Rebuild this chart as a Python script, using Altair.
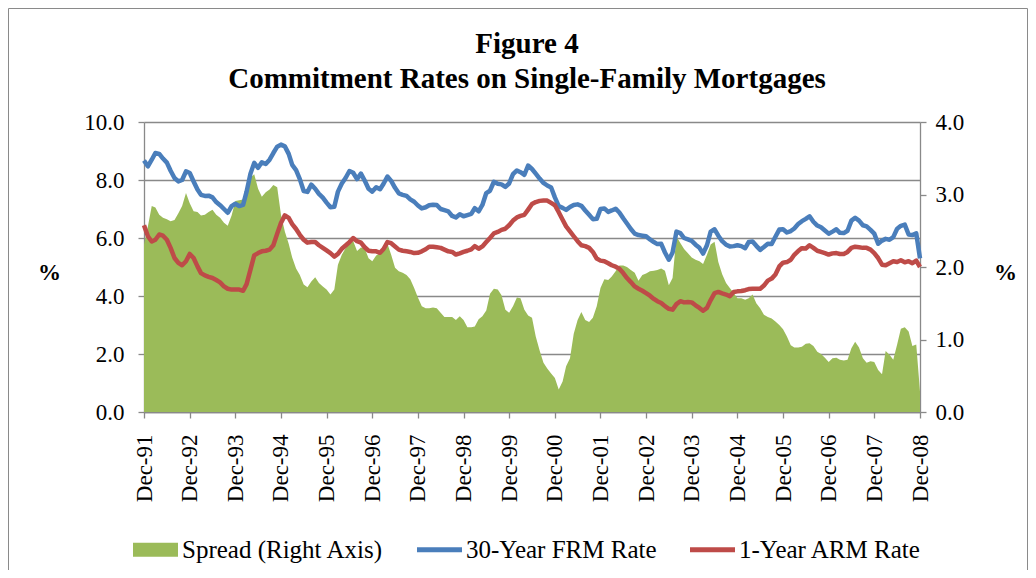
import altair as alt
import pandas as pd

# ---------------- data (monthly, Dec-1991 .. Dec-2008) ----------------
frm = [
    8.67,
    8.47, 8.70, 8.93, 8.90, 8.74, 8.60, 8.32, 8.07, 7.95, 8.00, 8.30, 8.24,
    7.95, 7.67, 7.49, 7.45, 7.46, 7.40, 7.24, 7.13, 7.00, 6.87, 7.10, 7.18,
    7.10, 7.14, 7.60, 8.22, 8.59, 8.42, 8.61, 8.55, 8.70, 8.93, 9.15, 9.22,
    9.16, 8.90, 8.52, 8.34, 8.03, 7.62, 7.59, 7.84, 7.70, 7.52, 7.39, 7.22,
    7.06, 7.08, 7.60, 7.88, 8.07, 8.31, 8.25, 8.03, 8.22, 7.98, 7.70, 7.60,
    7.75, 7.68, 7.87, 8.12, 7.97, 7.73, 7.54, 7.49, 7.45, 7.33, 7.25, 7.12,
    7.02, 7.06, 7.13, 7.15, 7.14, 7.00, 6.96, 6.92, 6.76, 6.71, 6.82, 6.75,
    6.79, 6.83, 7.03, 6.92, 7.14, 7.55, 7.63, 7.94, 7.87, 7.85, 7.76, 7.88,
    8.20, 8.33, 8.27, 8.18, 8.50, 8.38, 8.22, 8.05, 7.90, 7.81, 7.74, 7.40,
    7.10, 7.04, 6.97, 7.07, 7.14, 7.16, 7.11, 6.95, 6.80, 6.65, 6.66, 7.00,
    7.02, 6.90, 6.95, 7.01, 6.88, 6.68, 6.50, 6.31, 6.15, 6.10, 6.08, 6.06,
    5.95, 5.86, 5.79, 5.80, 5.50, 5.25, 5.50, 6.22, 6.17, 6.00, 5.95, 5.90,
    5.77, 5.66, 5.46, 5.75, 6.22, 6.30, 6.08, 5.89, 5.77, 5.71, 5.72, 5.75,
    5.72, 5.65, 5.86, 5.88, 5.73, 5.59, 5.69, 5.80, 5.79, 6.04, 6.29, 6.30,
    6.19, 6.24, 6.33, 6.48, 6.58, 6.66, 6.75, 6.56, 6.43, 6.37, 6.26, 6.15,
    6.22, 6.30, 6.18, 6.17, 6.25, 6.60, 6.70, 6.60, 6.44, 6.40, 6.28, 6.15,
    5.80, 5.91, 5.97, 5.94, 6.03, 6.32, 6.42, 6.46, 6.12, 6.10, 6.16, 5.30,
]

arm = [
    6.44,
    6.06, 5.88, 5.94, 6.12, 6.08, 5.94, 5.66, 5.31, 5.14, 5.06, 5.20, 5.45,
    5.31, 5.02, 4.79, 4.71, 4.66, 4.62, 4.55, 4.47, 4.33, 4.25, 4.22, 4.22,
    4.22, 4.18, 4.41, 4.91, 5.40, 5.48, 5.54, 5.56, 5.60, 5.75, 6.15, 6.52,
    6.78, 6.69, 6.48, 6.31, 6.11, 5.94, 5.84, 5.86, 5.86, 5.75, 5.66, 5.57,
    5.48, 5.36, 5.45, 5.63, 5.74, 5.86, 6.00, 5.89, 5.84, 5.68, 5.56, 5.54,
    5.54, 5.49, 5.62, 5.86, 5.82, 5.71, 5.60, 5.56, 5.54, 5.52, 5.48, 5.49,
    5.54, 5.61, 5.70, 5.70, 5.68, 5.66, 5.60, 5.54, 5.52, 5.43, 5.47, 5.52,
    5.56, 5.61, 5.72, 5.63, 5.71, 5.86, 6.00, 6.16, 6.21, 6.28, 6.32, 6.44,
    6.60, 6.71, 6.76, 6.80, 6.98, 7.17, 7.24, 7.28, 7.29, 7.29, 7.21, 7.13,
    6.89, 6.63, 6.40, 6.23, 6.06, 5.89, 5.75, 5.72, 5.66, 5.52, 5.29, 5.22,
    5.20, 5.13, 5.06, 5.01, 4.94, 4.79, 4.62, 4.48, 4.33, 4.25, 4.18, 4.10,
    4.01, 3.90, 3.82, 3.76, 3.65, 3.56, 3.53, 3.72, 3.82, 3.78, 3.79, 3.78,
    3.68, 3.59, 3.49, 3.59, 3.86, 4.10, 4.14, 4.09, 4.05, 3.99, 4.14, 4.16,
    4.17, 4.20, 4.24, 4.25, 4.25, 4.25, 4.36, 4.53, 4.60, 4.74, 5.02, 5.15,
    5.17, 5.25, 5.42, 5.55, 5.65, 5.64, 5.75, 5.66, 5.56, 5.52, 5.48, 5.43,
    5.47, 5.48, 5.45, 5.45, 5.52, 5.66, 5.70, 5.68, 5.66, 5.66, 5.60, 5.48,
    5.31, 5.08, 5.06, 5.13, 5.20, 5.17, 5.23, 5.16, 5.20, 5.13, 5.22, 5.00,
]

spread = [
    2.31,
    2.56, 2.84, 2.82, 2.72, 2.68, 2.66, 2.63, 2.65, 2.74, 2.84, 3.02, 2.88,
    2.77, 2.76, 2.71, 2.72, 2.76, 2.79, 2.72, 2.68, 2.61, 2.57, 2.71, 2.91,
    2.92, 2.93, 3.02, 3.23, 3.28, 3.08, 2.97, 3.03, 3.07, 3.13, 3.10, 2.72,
    2.49, 2.32, 2.13, 1.98, 1.89, 1.76, 1.72, 1.80, 1.86, 1.78, 1.73, 1.69,
    1.62, 1.69, 2.03, 2.17, 2.26, 2.33, 2.36, 2.22, 2.27, 2.26, 2.12, 2.08,
    2.16, 2.19, 2.23, 2.32, 2.17, 1.99, 1.94, 1.92, 1.89, 1.83, 1.71, 1.58,
    1.46, 1.43, 1.43, 1.44, 1.43, 1.37, 1.31, 1.31, 1.31, 1.27, 1.32, 1.27,
    1.17, 1.17, 1.18, 1.28, 1.32, 1.40, 1.63, 1.70, 1.69, 1.61, 1.41, 1.37,
    1.46, 1.58, 1.57, 1.41, 1.33, 1.30, 1.04, 0.85, 0.68, 0.60, 0.53, 0.47,
    0.31, 0.42, 0.63, 0.74, 1.08, 1.27, 1.38, 1.27, 1.24, 1.30, 1.46, 1.71,
    1.83, 1.82, 1.87, 1.94, 2.02, 2.02, 2.00, 1.96, 1.92, 1.81, 1.89, 1.91,
    1.94, 1.95, 1.96, 1.98, 1.95, 1.75, 1.85, 2.42, 2.33, 2.25, 2.19, 2.13,
    2.10, 2.08, 2.04, 2.17, 2.31, 2.35, 2.07, 1.90, 1.78, 1.71, 1.64, 1.57,
    1.57, 1.55, 1.57, 1.62, 1.50, 1.43, 1.34, 1.31, 1.29, 1.25, 1.20, 1.14,
    1.04, 0.92, 0.89, 0.89, 0.90, 0.94, 0.95, 0.91, 0.83, 0.80, 0.75, 0.69,
    0.74, 0.75, 0.72, 0.71, 0.72, 0.88, 0.97, 0.89, 0.74, 0.68, 0.70, 0.69,
    0.58, 0.52, 0.84, 0.79, 0.72, 0.93, 1.15, 1.17, 1.11, 0.91, 0.93, 0.28,
]

series_names = ["Spread (Right Axis)", "30-Year FRM Rate", "1-Year ARM Rate"]
series_colors = ["#9BBB59", "#4A7EBB", "#BE4B48"]
left_ticks = [0, 2, 4, 6, 8, 10]
right_ticks = [0, 1, 2, 3, 4]
tick_years = list(range(1991, 2009))
title_lines = ["Figure 4", "Commitment Rates on Single-Family Mortgages"]

# ---------------- tables ----------------
dates = pd.date_range("1991-12-01", periods=len(frm), freq="MS")
df = pd.DataFrame({
    "date": dates,
    series_names[1]: frm,
    series_names[2]: arm,
    "spread": spread,
})
x_ticks = [alt.DateTime(year=y, month=12, date=1) for y in tick_years]

FONT = "Liberation Serif"
GRAY = "#898989"

x_enc = alt.X(
    "date:T",
    scale=alt.Scale(domain=[x_ticks[0], x_ticks[-1]], nice=False),
    axis=alt.Axis(
        values=x_ticks, format="%b-%y", labelAngle=-90, labelPadding=16,
        tickSize=6, grid=False, title=None,
    ),
)

area = alt.Chart(df).mark_area(color=series_colors[0], opacity=1).encode(
    x=x_enc,
    y=alt.Y(
        "spread:Q",
        scale=alt.Scale(domain=[0, 4], nice=False),
        axis=alt.Axis(
            orient="right", values=right_ticks, format=".1f", grid=False,
            tickSize=6, labelPadding=9, title="%", titleAngle=0,
            titleX=85, titleY=150, titleAlign="center", titleBaseline="middle",
        ),
    ),
)

lines = alt.Chart(df).transform_fold(
    series_names[1:], as_=["series", "value"]
).mark_line(strokeWidth=4.5, strokeJoin="round").encode(
    x=x_enc,
    y=alt.Y(
        "value:Q",
        scale=alt.Scale(domain=[0, 10], nice=False),
        axis=alt.Axis(
            orient="left", values=left_ticks, format=".1f", grid=True,
            tickSize=6, labelPadding=14, title="%", titleAngle=0,
            titleX=-95, titleY=150, titleAlign="center", titleBaseline="middle",
        ),
    ),
    color=alt.Color(
        "series:N",
        scale=alt.Scale(domain=series_names[1:], range=series_colors[1:]),
        legend=None,
    ),
)

# legend-only layer (no visible marks; legend built from the explicit scale domain)
shape_paths = [
    "M-1,-0.31H1V0.31H-1Z",
    "M-1,-0.11H1V0.11H-1Z",
    "M-1,-0.11H1V0.11H-1Z",
]
legend_props = dict(
    orient="none", legendX=-11, legendY=405, direction="horizontal", columns=3,
    symbolSize=2025, symbolStrokeWidth=0, labelFont=FONT, labelFontSize=25,
    labelColor="black", labelOffset=4, labelLimit=500, columnPadding=33,
    title=None,
)
legend_layer = alt.Chart(pd.DataFrame({"item": series_names})).transform_filter(
    "datum.item == 'none'"
).mark_point(filled=True, opacity=1).encode(
    color=alt.Color(
        "item:N",
        scale=alt.Scale(domain=series_names, range=series_colors),
        legend=alt.Legend(**legend_props),
    ),
    shape=alt.Shape(
        "item:N",
        scale=alt.Scale(domain=series_names, range=shape_paths),
        legend=alt.Legend(**legend_props),
    ),
)

# outer frame of the figure
frame_src = alt.Data(values=[{"f": 1}])
frame_top = alt.Chart(frame_src).mark_rule(color="#8a8a8a", strokeWidth=1).encode(
    x=alt.value(-135.5), x2=alt.value(883.5), y=alt.value(-113.5))
frame_left = alt.Chart(frame_src).mark_rule(color="#8a8a8a", strokeWidth=1).encode(
    x=alt.value(-135.5), y=alt.value(-113.5), y2=alt.value(448))
frame_right = alt.Chart(frame_src).mark_rule(color="#8a8a8a", strokeWidth=1).encode(
    x=alt.value(883.5), y=alt.value(-113.5), y2=alt.value(448))

chart = alt.layer(
    frame_top, frame_left, frame_right, area, lines, legend_layer
).resolve_scale(
    y="independent", color="independent", shape="independent"
).properties(
    width=776,
    height=290,
    background="white",
    autosize=alt.AutoSizeParams(type="none"),
    padding={"left": 136, "top": 114, "right": 108, "bottom": 158},
    title=alt.Title(
        title_lines, font=FONT, fontSize=29, fontWeight="bold", color="black",
        anchor="middle", frame="group", lineHeight=35, dx=-5, offset=-86,
    ),
).configure_view(
    strokeWidth=0
).configure_axis(
    domainColor=GRAY, tickColor=GRAY, gridColor=GRAY, gridWidth=1.3,
    domainWidth=1.3, tickWidth=1.3,
    labelFont=FONT, labelFontSize=23, labelColor="black",
    titleFont=FONT, titleFontSize=23, titleFontWeight="bold", titleColor="black",
)

chart.save("out.html", embed_options={"renderer": "svg", "actions": False})
